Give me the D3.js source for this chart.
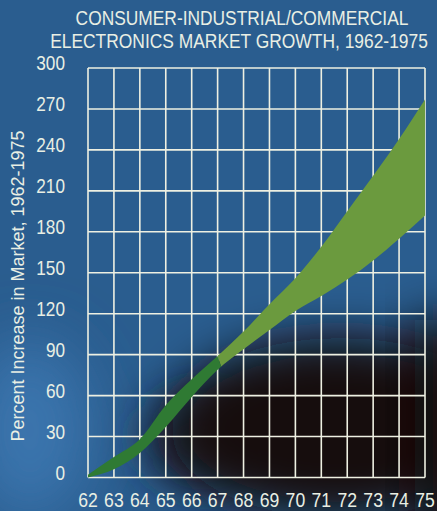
<!DOCTYPE html>
<html>
<head>
<meta charset="utf-8">
<script src="https://cdn.jsdelivr.net/npm/d3@7"></script>
<style>
  html, body { margin: 0; padding: 0; background: #2a5d8f; }
  svg { display: block; }
  text { font-family: "Liberation Sans", Arial, "DejaVu Sans", sans-serif; fill: #e9efe4; }
</style>
</head>
<body>
<script>
// ---- data ----
const titleLines = ["CONSUMER-INDUSTRIAL/COMMERCIAL", "ELECTRONICS MARKET GROWTH, 1962-1975"];
const yAxisTitle = "Percent Increase in Market, 1962-1975";
const years = [62, 63, 64, 65, 66, 67, 68, 69, 70, 71, 72, 73, 74, 75];
const upperValues = [2, 15, 28, 53, 72, 89, 107, 127, 146, 169, 195, 221, 248, 277];
const lowerValues = [0, 6, 18, 37, 59, 79, 94, 108, 122, 133, 145, 159, 175, 192];
const actualLastYear = 67; // dark green up to here, lighter green (projection) after
const yTicks = [0, 30, 60, 90, 120, 150, 180, 210, 240, 270, 300];
const xTickLabels = ["62","63","64","65","66","67","68","69","70","71","72","73","74","75"];

const W = 437, H = 511;
const svg = d3.select("body").append("svg").attr("width", W).attr("height", H);
const defs = svg.append("defs");
defs.append("filter").attr("id", "blur").attr("x", "-50%").attr("y", "-50%").attr("width", "200%").attr("height", "200%")
  .append("feGaussianBlur").attr("stdDeviation", 24);
defs.append("filter").attr("id", "blur2").attr("x", "-50%").attr("y", "-50%").attr("width", "200%").attr("height", "200%")
  .append("feGaussianBlur").attr("stdDeviation", 30);

// background
svg.append("rect").attr("width", W).attr("height", H).attr("fill", "#2a5d8f");
svg.append("ellipse").attr("cx", 30).attr("cy", 430).attr("rx", 60).attr("ry", 90)
  .attr("fill", "#3a74ad").attr("filter", "url(#blur2)");
svg.append("ellipse").attr("cx", 205).attr("cy", 440).attr("rx", 60).attr("ry", 45)
  .attr("fill", "#1c2230").attr("filter", "url(#blur)");
svg.append("ellipse").attr("cx", 340).attr("cy", 428).attr("rx", 170).attr("ry", 90)
  .attr("fill", "#150f0e").attr("filter", "url(#blur)");
svg.append("rect").attr("x", 415).attr("y", 320).attr("width", 60).attr("height", 230)
  .attr("fill", "#150f0e").attr("filter", "url(#blur)");

const x = d3.scaleLinear().domain([62, 75]).range([88, 425]);
const y = d3.scaleLinear().domain([0, 300]).range([477.5, 68]);

// grid
const gridColor = "#eef0e2";
const grid = svg.append("g");
grid.selectAll("line.v").data(years).join("line")
  .attr("x1", d => x(d)).attr("x2", d => x(d))
  .attr("y1", y(0)).attr("y2", y(300))
  .attr("stroke", gridColor).attr("stroke-width", 1.6);
grid.selectAll("line.h").data(yTicks).join("line")
  .attr("x1", x(62)).attr("x2", x(75))
  .attr("y1", d => y(d)).attr("y2", d => y(d))
  .attr("stroke", gridColor).attr("stroke-width", 1.6);

// band
const bandData = years.map((yr, i) => ({ yr, lo: lowerValues[i], hi: upperValues[i] }));
const area = d3.area().x(d => x(d.yr)).y0(d => y(d.lo)).y1(d => y(d.hi)).curve(d3.curveMonotoneX);
const xs = x(actualLastYear);
const p1 = [xs - 3, y(95)], p2 = [xs + 7, y(74)];
const k = (p2[0] - p1[0]) / (p2[1] - p1[1]);
const xAt = yy => p1[0] + (yy - p1[1]) * k;
defs.append("clipPath").attr("id", "clipActual").append("polygon")
  .attr("points", [[0, 0], [xAt(0), 0], [xAt(H), H], [0, H]].map(p => p.join(",")).join(" "));
defs.append("clipPath").attr("id", "clipProj").append("polygon")
  .attr("points", [[xAt(0), 0], [W, 0], [W, H], [xAt(H), H]].map(p => p.join(",")).join(" "));
svg.append("path").datum(bandData).attr("d", area).attr("fill", "#6b9a3e").attr("clip-path", "url(#clipProj)");
svg.append("path").datum(bandData).attr("d", area).attr("fill", "#2f7a33").attr("clip-path", "url(#clipActual)");

// y labels
svg.append("g").selectAll("text").data(yTicks).join("text")
  .attr("transform", d => `translate(65,${y(d) + 2}) scale(0.86,1)`)
  .attr("text-anchor", "end").attr("font-size", 20)
  .text(d => d);

// x labels
svg.append("g").selectAll("text").data(years).join("text")
  .attr("transform", d => `translate(${x(d)},507) scale(0.84,1)`)
  .attr("text-anchor", "middle").attr("font-size", 21)
  .text((d, i) => xTickLabels[i]);

// helper: text squeezed horizontally to a target width
function fitted(txt, cx, cy, size, target, rot) {
  const t = svg.append("text").attr("text-anchor", "middle").attr("font-size", size).text(txt);
  const len = t.node().getComputedTextLength();
  const s = Math.min(1, target / len);
  t.attr("transform", `translate(${cx},${cy})${rot ? " rotate(" + rot + ")" : ""} scale(${s},1)`);
  return t;
}
fitted(yAxisTitle, 24, 286, 18, 328, -90);
fitted(titleLines[0], 242, 25, 19.5, 333);
fitted(titleLines[1], 239, 48, 19.5, 378);
</script>
</body>
</html>
